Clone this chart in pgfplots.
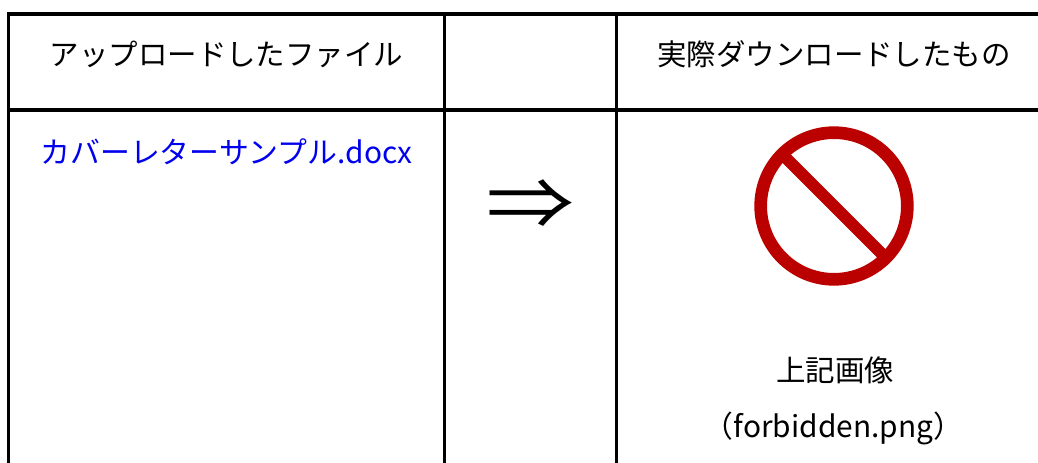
\documentclass[border=0pt]{standalone}
\usepackage{pgfplots}
\pgfplotsset{compat=1.18}
\usepackage{fontspec}
\setmainfont{Noto Sans CJK JP}
\newfontfamily\arrowfont{Noto Sans CJK JP}
\definecolor{ban}{RGB}{187,0,0}
\definecolor{lnk}{RGB}{0,0,238}
\tikzset{txt/.style={font=\fontsize{22.1pt}{24pt}\selectfont, inner sep=0pt, anchor=base}}
\begin{document}
\begin{tikzpicture}
\useasboundingbox (0,0) rectangle (778.5pt,347.25pt);
\begin{axis}[
  at={(0,0)}, anchor=south west,
  scale only axis, width=778.5pt, height=347.25pt,
  xmin=0, xmax=1038, ymin=0, ymax=463, y dir=reverse,
  axis lines=none, clip=true
]
\addplot[black, line width=2.6pt, no markers] coordinates {(7,14) (1038,14)};
\addplot[black, line width=2.6pt, no markers] coordinates {(8.5,14) (8.5,463)};
\addplot[black, line width=2.6pt, no markers] coordinates {(8.5,110) (1038,110)};
\addplot[black, line width=2.25pt, no markers] coordinates {(444,14) (444,463)};
\addplot[black, line width=2.25pt, no markers] coordinates {(616,14) (616,463)};
% forbidden sign
\draw[ban, line width=9.5pt] (axis cs:834,206) circle[radius=55pt];
\addplot[ban, line width=9pt, no markers] coordinates {(782,154) (886,258)};
\node[txt] at (axis cs:226.5,66) {アップロードしたファイル};
\node[txt] at (axis cs:834,66) {実際ダウンロードしたもの};
\node[txt, text=lnk, font=\fontsize{22.4pt}{24pt}\selectfont] at (axis cs:226.5,163.5) {カバーレターサンプル.docx};
\node[txt] at (axis cs:835,381) {上記画像};
\node[txt, font=\fontsize{22.4pt}{24pt}\selectfont] at (axis cs:833.5,437) {（forbidden.png）};
\node[inner sep=0pt, yscale=0.8, font=\fontsize{66pt}{70pt}\selectfont\arrowfont] at (axis cs:530.5,205) {⇒};
\end{axis}
\end{tikzpicture}
\end{document}
